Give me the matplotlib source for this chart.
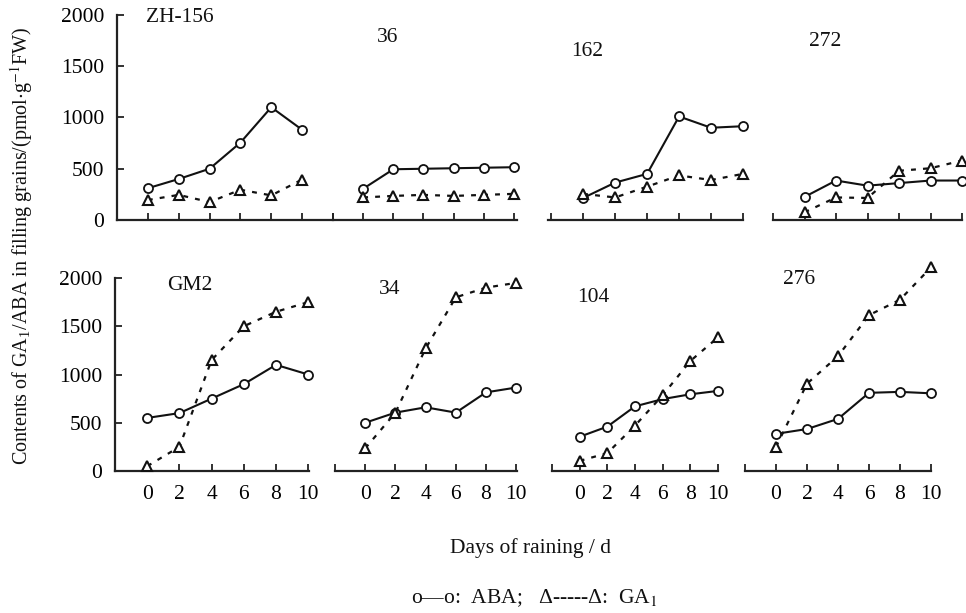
import matplotlib
matplotlib.use("Agg")
import matplotlib.pyplot as plt

plt.rcParams['font.family'] = ['Liberation Serif', 'DejaVu Serif']
plt.rcParams['mathtext.fontset'] = 'stix'

days = [0, 2, 4, 6, 8, 10]

varieties = ["ZH-156", "36", "162", "272", "GM2", "34", "104", "276"]

aba = {
    "ZH-156": [310, 400, 500, 755, 1100, 880],
    "36": [305, 495, 500, 505, 510, 515],
    "162": [215, 365, 450, 1010, 900, 915],
    "272": [225, 385, 335, 360, 385, 385],
    "GM2": [550, 600, 750, 900, 1100, 1000],
    "34": [500, 605, 660, 605, 815, 865],
    "104": [355, 460, 670, 745, 795, 830],
    "276": [385, 435, 540, 810, 820, 805],
}
ga1 = {
    "ZH-156": [195, 245, 175, 295, 240, 395],
    "36": [220, 235, 245, 235, 245, 255],
    "162": [255, 220, 325, 435, 390, 450],
    "272": [75, 220, 215, 480, 505, 580],
    "GM2": [50, 250, 1150, 1500, 1650, 1750],
    "34": [235, 605, 1270, 1800, 1900, 1950],
    "104": [105, 185, 470, 785, 1140, 1385],
    "276": [250, 905, 1190, 1615, 1775, 2110],
}

y_ticks = [0, 500, 1000, 1500, 2000]
x_tick_labels = ["0", "2", "4", "6", "8", "10"]

W, H = 966, 613
fig = plt.figure(figsize=(W / 100, H / 100), dpi=100)

# (left px, right px, xmin, xmax) per panel ; rows: (top px, bottom px)
layout = [
    (117, 333, -2, 12), (333, 517, -2, 10.2), (548, 743, -2.2, 10), (773, 962, -2, 10),
    (115, 309, -1.85, 10.05), (335, 517, -2, 10.05), (552, 718, -2, 10), (745, 931, -2, 10),
]
rows = [(15, 220), (278, 471)]
label_pos = [(180, 18), (388, 38), (587, 52), (825, 42),
             (190, 285), (390, 290), (593, 297), (799, 280)]

FS = 15.5
axcol = '#222222'
for i, v in enumerate(varieties):
    l, r, x0, x1 = layout[i]
    t, b = rows[i // 4]
    ax = fig.add_axes([l / W, 1 - b / H, (r - l) / W, (b - t) / H])
    ax.set_xlim(x0, x1)
    ax.set_ylim(0, 2000)
    for s in ['top', 'right']:
        ax.spines[s].set_visible(False)
    ax.spines['bottom'].set_linewidth(1.6)
    ax.spines['bottom'].set_color(axcol)
    ax.spines['left'].set_linewidth(1.6)
    ax.spines['left'].set_color(axcol)
    ax.patch.set_alpha(0)
    xt = [-2, 0, 2, 4, 6, 8, 10] + ([12] if x1 >= 12 else [])
    ax.set_xticks(xt)
    if i >= 4:
        ax.set_xticklabels([''] + x_tick_labels)
    else:
        ax.set_xticklabels([''] * len(xt))
    ax.tick_params(axis='x', direction='in', length=5, width=1.3, color=axcol,
                   labelsize=FS, pad=10)
    if i % 4 == 0:
        ax.set_yticks(y_ticks)
        ax.set_yticklabels([str(y) for y in y_ticks])
        ax.tick_params(axis='y', direction='in', length=5, width=1.3, color=axcol,
                       labelsize=FS, pad=9)
    else:
        ax.spines['left'].set_visible(False)
        ax.set_yticks([])
    ax.plot(days, aba[v], color='#111111', lw=1.5, marker='o', ms=6.5,
            mfc='white', mec='#111111', mew=1.3, clip_on=False, zorder=3)
    ax.plot(days, ga1[v], color='#111111', lw=1.6, dashes=(2.2, 3.2), marker='^', ms=6.5,
            mfc='white', mec='#111111', mew=1.5, clip_on=False, zorder=3)
    lx, ly = label_pos[i]
    fig.text(lx / W, 1 - ly / H, v, fontsize=FS, ha='center', va='center', color='#111111')

fig.text(22 / W, 1 - 246 / H,
         "Contents of GA$_{\\mathregular{1}}$/ABA in filling grains/(pmol$\\cdot$g$^{-1}$FW)",
         rotation=90, ha='center', va='center', fontsize=14.5, color='#111111')
fig.text(530 / W, 1 - 548 / H, "Days of raining / d", ha='center', va='center',
         fontsize=FS, color='#111111')
fig.text(534 / W, 1 - 598 / H, "o\u2014o:  ABA;   \u0394-----\u0394:  GA$_1$", ha='center',
         va='center', fontsize=FS, color='#111111')

fig.savefig("out.png", dpi=100)
